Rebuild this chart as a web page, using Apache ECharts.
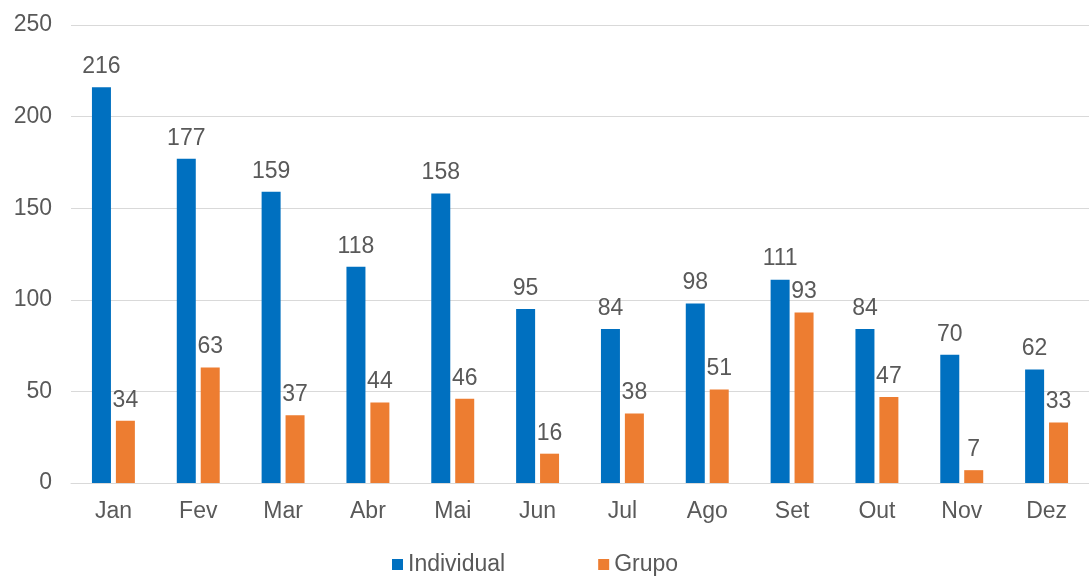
<!DOCTYPE html>
<html>
<head>
<meta charset="utf-8">
<script src="https://cdn.jsdelivr.net/npm/echarts@6/dist/echarts.min.js"></script>
<style>
  html, body { margin: 0; padding: 0; background: #fff; }
  #chart { width: 1089px; height: 579px; }
</style>
</head>
<body>
<div id="chart"></div>
<script>
const months = ['Jan', 'Fev', 'Mar', 'Abr', 'Mai', 'Jun', 'Jul', 'Ago', 'Set', 'Out', 'Nov', 'Dez'];
const individual = [216, 177, 159, 118, 158, 95, 84, 98, 111, 84, 70, 62];
const grupo = [34, 63, 37, 44, 46, 16, 38, 51, 93, 47, 7, 33];

const font = 'Liberation Sans, Arial, sans-serif';
const txt = '#595959';

const chart = echarts.init(document.getElementById('chart'));
chart.setOption({
  backgroundColor: '#fff',
  animation: false,
  textStyle: { fontFamily: font, color: txt },
  grid: { left: 71, top: 25, width: 1028, height: 458 },
  legend: {
    bottom: -2,
    left: 387,
    itemWidth: 11,
    itemHeight: 11,
    itemGap: 93,
    icon: 'rect',
    textStyle: { fontSize: 23, color: txt, fontFamily: font },
    data: ['Individual', 'Grupo'],
  },
  xAxis: {
    type: 'category',
    data: months,
    axisLine: { lineStyle: { color: '#d9d9d9' } },
    axisTick: { show: false },
    axisLabel: { fontSize: 23, color: txt, margin: 17 },
  },
  yAxis: {
    type: 'value',
    min: 0, max: 250, interval: 50,
    axisLine: { show: false },
    axisTick: { show: false },
    splitLine: { lineStyle: { color: '#d9d9d9' } },
    axisLabel: { fontSize: 23, color: txt, margin: 19 },
  },
  series: [
    {
      name: 'Individual', type: 'bar', data: individual,
      barWidth: 19, barGap: '26%',
      itemStyle: { color: '#0070C0' },
      label: { show: true, position: 'top', distance: 9, fontSize: 23, color: txt },
    },
    {
      name: 'Grupo', type: 'bar', data: grupo,
      barWidth: 19,
      itemStyle: { color: '#ED7D31' },
      label: { show: true, position: 'top', distance: 9, fontSize: 23, color: txt },
    },
  ],
});
</script>
</body>
</html>
